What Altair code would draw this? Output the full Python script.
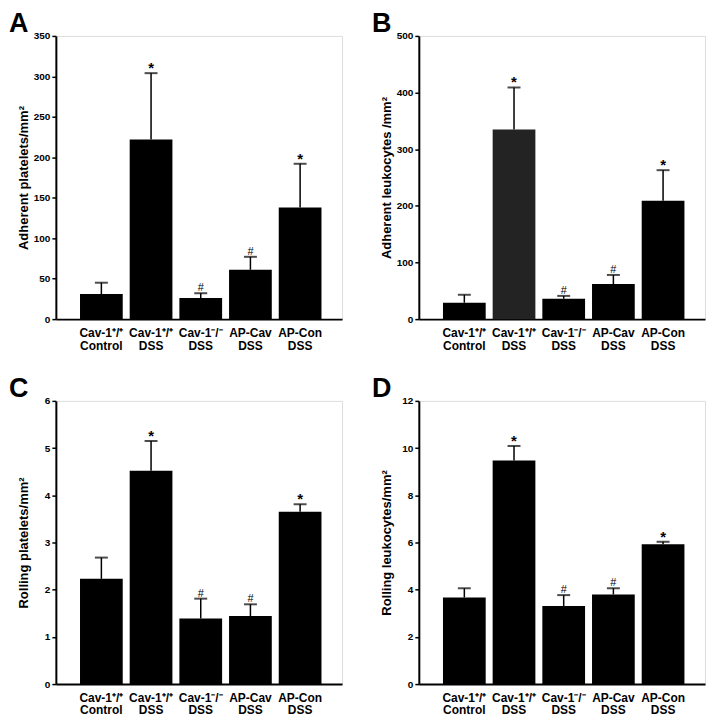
import altair as alt
import pandas as pd

cats = ["Cav-1⁺/⁺\nControl", "Cav-1⁺/⁺\nDSS", "Cav-1⁻/⁻\nDSS", "AP-Cav\nDSS", "AP-Con\nDSS"]
sig = ["", "*", "#", "#", "*"]

a_mean = [31, 222, 26, 61, 138]
a_err = [45, 304, 32, 77, 192]
b_mean = [29, 335, 36, 62, 209]
b_err = [43, 409, 41, 78, 263]
c_mean = [2.23, 4.52, 1.39, 1.44, 3.65]
c_err = [2.68, 5.15, 1.81, 1.69, 3.81]
d_mean = [3.67, 9.47, 3.31, 3.80, 5.92]
d_err = [4.06, 10.09, 3.77, 4.06, 6.03]

black5 = ["#000000"] * 5
b_colors = ["#000000", "#232323", "#000000", "#000000", "#000000"]

letters = ["A", "B", "C", "D"]
y_titles = ["Adherent platelets/mm²", "Adherent leukocytes /mm²",
            "Rolling platelets/mm²", "Rolling leukocytes/mm²"]
y_max = [350, 500, 6, 12]
y_step = [50, 100, 1, 2]

FONT = "Liberation Sans"
W, H = 287, 284


def panel(letter, mean, err, ymax, step, ytitle, colors):
    df = pd.DataFrame({"cat": cats, "mean": mean, "err": err, "sig": sig, "color": colors})
    xscale = alt.Scale(paddingInner=0.14, paddingOuter=0.45, align=0.54)
    xaxis = alt.Axis(labelAngle=0, ticks=False, tickSize=0, labelPadding=8,
                     labelExpr="split(datum.label, '\\n')", labelFontSize=12,
                     labelLineHeight=13, labelFont=FONT, labelFontWeight="bold",
                     labelColor="black", domainColor="black", domainWidth=2,
                     labelOverlap=False, title=None)
    yscale = alt.Scale(domain=[0, ymax], nice=False, zero=True)
    yaxis = alt.Axis(values=list(range(0, ymax + step, step)), grid=False,
                     minExtent=22, maxExtent=22, titlePadding=3,
                     labelFontSize=10, labelFont=FONT, labelFontWeight="bold",
                     labelColor="black", tickColor="black", tickWidth=1.5, tickSize=4,
                     labelPadding=2, domainColor="black", domainWidth=2,
                     titleFont=FONT, titleFontSize=13, titleFontWeight="bold",
                     titleColor="black", labelOverlap=False)
    X = alt.X("cat:N", sort=cats, scale=xscale, axis=xaxis, title=None)
    base = alt.Chart(df)
    bars = base.mark_bar().encode(
        x=X,
        y=alt.Y("mean:Q", scale=yscale, axis=yaxis, title=ytitle),
        color=alt.Color("color:N", scale=None),
    )
    rule = base.mark_rule(color="black", strokeWidth=1.5).encode(
        x=X, y=alt.Y("mean:Q", title=ytitle), y2="err:Q")
    cap = base.mark_tick(color="black", thickness=2, size=13).encode(
        x=X, y=alt.Y("err:Q", title=ytitle))
    star = base.transform_filter("datum.sig == '*'").mark_text(
        font=FONT, fontSize=15, fontWeight="bold", baseline="alphabetic", dy=0,
        color="black").encode(x=X, y=alt.Y("err:Q", title=ytitle), text="sig:N")
    hsh = base.transform_filter("datum.sig == '#'").mark_text(
        font=FONT, fontSize=11, baseline="alphabetic", dy=-2,
        color="black").encode(x=X, y=alt.Y("err:Q", title=ytitle), text="sig:N")
    lab = alt.Chart(pd.DataFrame({"t": [letter]})).mark_text(
        font=FONT, fontSize=27, fontWeight="bold", align="left", baseline="top",
        color="black").encode(text="t:N", x=alt.value(-47), y=alt.value(-25))
    return alt.layer(bars, rule, cap, star, hsh, lab).properties(width=W, height=H)


pa = panel(letters[0], a_mean, a_err, y_max[0], y_step[0], y_titles[0], black5)
pb = panel(letters[1], b_mean, b_err, y_max[1], y_step[1], y_titles[1], b_colors)
pc = panel(letters[2], c_mean, c_err, y_max[2], y_step[2], y_titles[2], black5)
pd_ = panel(letters[3], d_mean, d_err, y_max[3], y_step[3], y_titles[3], black5)

chart = alt.vconcat(
    alt.hconcat(pa, pb, spacing=28),
    alt.hconcat(pc, pd_, spacing=28),
    spacing=22,
    padding=0,
).configure_view(stroke=None).configure(background="white")

chart.save("out.html", embed_options={"renderer": "svg", "actions": False})
